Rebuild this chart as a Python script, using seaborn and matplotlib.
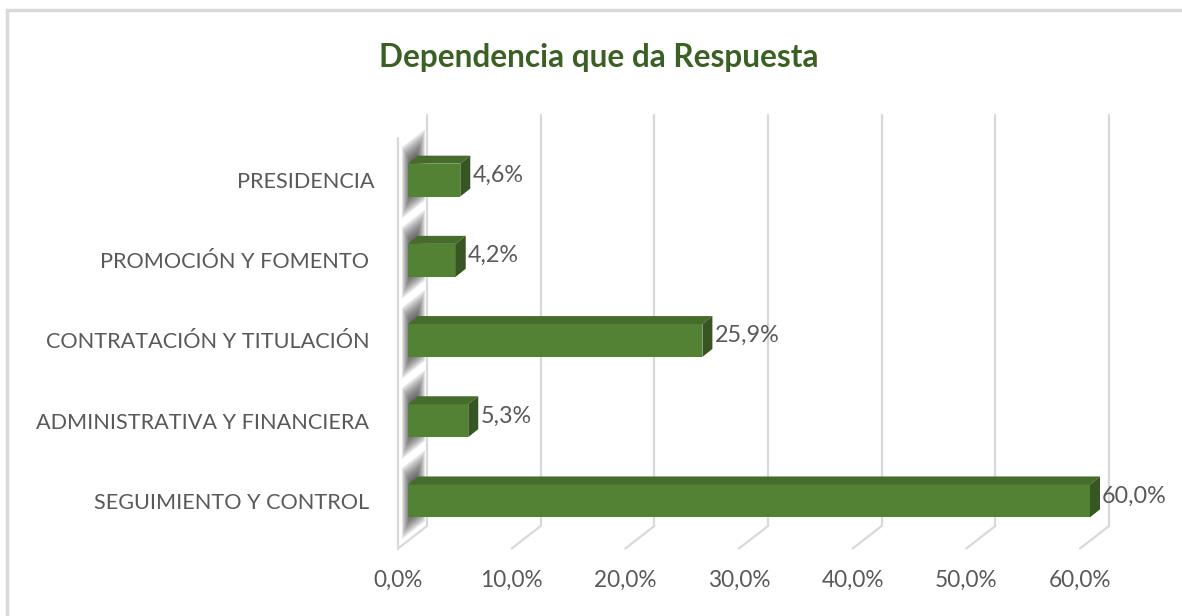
import matplotlib
matplotlib.use("Agg")
import matplotlib.pyplot as plt
import matplotlib.transforms as mtransforms
from matplotlib.patches import Polygon, Rectangle
import seaborn as sns
import pandas as pd

# data
categories = ["PRESIDENCIA", "PROMOCIÓN Y FOMENTO ", "CONTRATACIÓN Y TITULACIÓN ",
              "ADMINISTRATIVA Y FINANCIERA ", "SEGUIMIENTO Y CONTROL "]
values = [4.6, 4.2, 25.9, 5.3, 60.0]
xticks = [0, 10, 20, 30, 40, 50, 60]
xtick_labels = ["0,0%", "10,0%", "20,0%", "30,0%", "40,0%", "50,0%", "60,0%"]
value_labels = ["4,6%", "4,2%", "25,9%", "5,3%", "60,0%"]
title = "Dependencia que da Respuesta"

FRONT = "#548235"
TOP = "#456c2b"
SIDE = "#375623"
GRID = "#d9d9d9"
TEXT = "#595959"

sns.set_theme(style="white")
plt.rcParams['font.family'] = ['Lato', 'DejaVu Sans']

W, H = 1182, 616
fig = plt.figure(figsize=(W / 100, H / 100), dpi=100)
ax = fig.add_axes([408 / W, (H - 541) / H, 682 / W, 401 / H])

df = pd.DataFrame({"cat": categories, "val": values})
sns.barplot(data=df, x="val", y="cat", orient="h", color=FRONT, saturation=1,
            width=0.41, ax=ax, zorder=5, linewidth=0, edgecolor="none")
bars = list(ax.patches)
ax.set_xlim(0, 60)
ax.set_ylim(4.5, -0.5)
for s in ax.spines.values():
    s.set_visible(False)
ax.set_xlabel("")
ax.set_ylabel("")

# pixel -> data unit helpers (axes is fixed)
sx = 682 / 60.0
sy = 401 / 5.0


def off(dx_px, dy_px):
    # display offset, dy positive = up on screen
    return ax.transData + mtransforms.ScaledTranslation(dx_px / 100, dy_px / 100, fig.dpi_scale_trans)


back = (19, 15)
front = (-10, -7.5)
y_top, y_bot = -0.62, 4.5
slope = 0.78  # screen rise per px of depth

# gridlines on back wall and floor
for v in xticks[1:]:
    ax.plot([v, v], [y_top, y_bot], color=GRID, lw=1.6, transform=off(*back), zorder=1, clip_on=False)
    x0 = v + back[0] / sx
    y0 = y_bot - back[1] / sy
    x1 = v + front[0] / sx
    y1 = y_bot - front[1] / sy
    ax.plot([x0, x1], [y0, y1], color=GRID, lw=1.6, zorder=1, clip_on=False)

# side wall at x=0
bx, by = back[0] / sx, -back[1] / sy
fx, fy = front[0] / sx, -front[1] / sy
ax.plot([0, 0], [y_top, y_bot], color=GRID, lw=1.6, transform=off(*back), zorder=1, clip_on=False)
ax.plot([0, 0], [y_top, y_bot], color=GRID, lw=1.6, transform=off(*front), zorder=1, clip_on=False)
ax.plot([bx, fx], [y_bot + by, y_bot + fy], color=GRID, lw=1.6, zorder=1, clip_on=False)

# blurred shadows of the bars on the side wall
for p in bars:
    yt = p.get_y()
    yb = p.get_y() + p.get_height()
    for k in range(8):
        u1 = -6 + k * 1.1
        u2 = 17 - k * 1.1
        t = yt - (21 - k * 2.6) / sy
        b = yb + (17 - k * 2.2) / sy
        pts = [(u1 / sx, t - slope * u1 / sy), (u2 / sx, t - slope * u2 / sy),
               (u2 / sx, b - slope * u2 / sy), (u1 / sx, b - slope * u1 / sy)]
        ax.add_patch(Polygon(pts, closed=True, facecolor="#2a2a2a", edgecolor="none",
                             alpha=0.13, zorder=2, clip_on=False))

# 3d faces of bars
dx, dy = 10 / sx, 8 / sy
for p, lab in zip(bars, value_labels):
    x0 = p.get_x()
    w = p.get_width()
    yt = p.get_y()
    yb = yt + p.get_height()
    ax.add_patch(Polygon([(x0, yt), (x0 + w, yt), (x0 + w + dx, yt - dy), (x0 + dx, yt - dy)],
                         closed=True, facecolor=TOP, edgecolor="none", zorder=6, clip_on=False))
    ax.add_patch(Polygon([(x0 + w, yt), (x0 + w, yb), (x0 + w + dx, yb - dy), (x0 + w + dx, yt - dy)],
                         closed=True, facecolor=SIDE, edgecolor="none", zorder=6, clip_on=False))
    ax.text(x0 + w + 12 / sx, (yt + yb) / 2 - 0.06, lab, color=TEXT, fontsize=16.8,
            va="center", ha="left", zorder=7, clip_on=False)

# tick labels
ax.set_xticks(xticks)
ax.set_xticklabels(xtick_labels, color=TEXT, fontsize=16.3)
ax.tick_params(axis="x", length=0, pad=21)
for t in ax.get_xticklabels():
    t.set_transform(t.get_transform() + mtransforms.ScaledTranslation(-0.10, 0, fig.dpi_scale_trans))
ax.tick_params(axis="y", length=0, pad=24, labelsize=15.6, labelcolor=TEXT)

fig.text(599 / W, 1 - 57 / H, title, ha="center", va="center", fontsize=22.8,
         fontweight="bold", color="#3b6024")

# chart border
fig.patches.append(Rectangle((7 / W, -0.05), 1.1, 1 - 10 / H + 0.05, transform=fig.transFigure,
                             fill=False, edgecolor="#d9d9d9", lw=2.5, zorder=0))

fig.savefig("out.png", dpi=100)
